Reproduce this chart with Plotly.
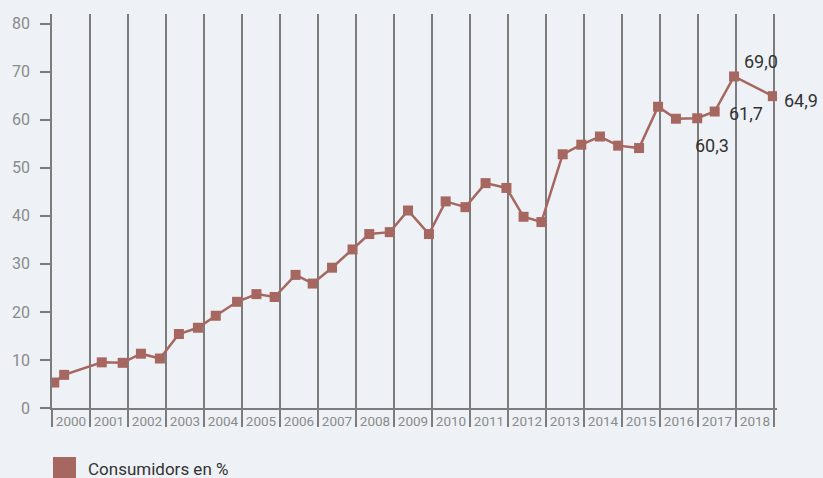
import plotly.graph_objects as go

# Data (x = survey date as decimal year)
dates = [2000.06, 2000.32, 2001.31, 2001.86, 2002.34, 2002.84, 2003.34, 2003.84,
         2004.31, 2004.87, 2005.38, 2005.86, 2006.41, 2006.86, 2007.37, 2007.91,
         2008.35, 2008.89, 2009.37, 2009.92, 2010.36, 2010.88, 2011.41, 2011.96,
         2012.41, 2012.88, 2013.44, 2013.93, 2014.42, 2014.90, 2015.45, 2015.95,
         2016.42, 2016.98, 2017.44, 2017.95, 2018.97]
consumidors = [5.3, 6.9, 9.5, 9.4, 11.3, 10.3, 15.4, 16.7, 19.2, 22.1, 23.7, 23.1,
               27.7, 25.9, 29.2, 33.0, 36.2, 36.6, 41.1, 36.2, 43.0, 41.8, 46.8, 45.8,
               39.8, 38.7, 52.8, 54.8, 56.5, 54.6, 54.1, 62.7, 60.2, 60.3, 61.7, 69.0,
               64.9]
year_labels = [str(y) for y in range(2000, 2019)]
y_ticks = [0, 10, 20, 30, 40, 50, 60, 70, 80]
labelled_idx = [33, 34, 35, 36]
label_shift = {33: (15, -27), 34: (31, -2), 35: (27, 15), 36: (28, -4)}

series_name = "Consumidors en %"
line_color = "#a5675f"
grid_color = "#7c7c7c"
bg = "#eef2f6"
FONT = "Roboto"

fig = go.Figure()
fig.add_trace(go.Scatter(
    x=dates, y=consumidors, mode="lines+markers", name=series_name,
    line=dict(color=line_color, width=2.5),
    marker=dict(symbol="square", size=10, color=line_color),
    showlegend=False, hoverinfo="x+y",
))

for i in labelled_idx:
    dx, dy = label_shift[i]
    fig.add_annotation(
        x=dates[i], y=consumidors[i], text=f"{consumidors[i]:.1f}".replace(".", ","),
        showarrow=False, xshift=dx, yshift=dy,
        font=dict(family=FONT, size=18, color="#333333"),
    )

L, R, T, B = 52, 46, 14, 70
W, H = 823, 478
pw, ph = W - L - R, H - T - B

def px_x(p):
    return (p - L) / pw

def px_y(p):
    return (H - B - p) / ph

# legend (square + text)
fig.add_shape(type="rect", xref="paper", yref="paper",
              x0=px_x(53), x1=px_x(76), y0=px_y(457), y1=px_y(480),
              fillcolor=line_color, line=dict(width=0))
fig.add_annotation(xref="paper", yref="paper", x=px_x(86), y=px_y(469),
                   xanchor="left", yanchor="middle", showarrow=False,
                   text=series_name, font=dict(family=FONT, size=17, color="#333333"))

fig.update_layout(
    width=W, height=H,
    margin=dict(l=L, r=R, t=T, b=B),
    paper_bgcolor=bg, plot_bgcolor=bg,
    font=dict(family=FONT),
    xaxis=dict(
        range=[2000, 2019.08],
        tickmode="array",
        tickvals=[int(y) + 0.5 for y in year_labels],
        ticktext=year_labels,
        ticks="",
        showgrid=False, zeroline=False,
        showline=True, linecolor=grid_color, linewidth=1.5,
        tickfont=dict(family=FONT, size=13.5, color="#8a8a8a"),
        minor=dict(tick0=2000, dtick=1, ticks="outside", ticklen=17,
                   tickcolor=grid_color, tickwidth=1.5,
                   showgrid=True, gridcolor=grid_color, gridwidth=1.5),
    ),
    yaxis=dict(
        range=[0, 82],
        tickvals=y_ticks,
        ticks="outside", ticklen=10, tickcolor=grid_color, tickwidth=1.5,
        ticklabelstandoff=7,
        showgrid=False, zeroline=False,
        showline=True, linecolor=grid_color, linewidth=1.5,
        tickfont=dict(family=FONT, size=16, color="#8a8a8a"),
    ),
)

fig.write_html("out.html", config={"displayModeBar": False},
               post_script="document.body.style.margin='0';document.body.style.background='%s';" % bg)
